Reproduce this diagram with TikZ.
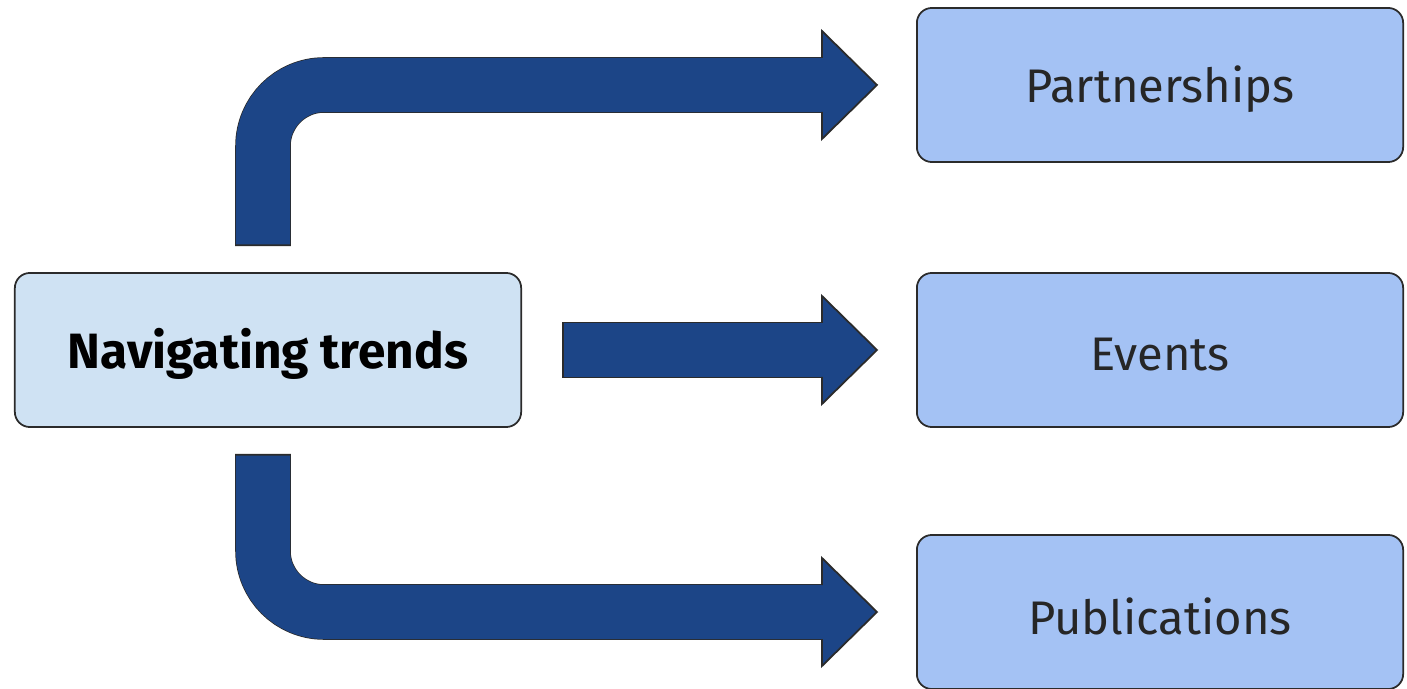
\documentclass[tikz,border=0pt]{standalone}
\usepackage{fontspec}
\setmainfont{Fira Sans}
\usetikzlibrary{calc}
\definecolor{arrowblue}{HTML}{1C4587}
\definecolor{trendfill}{HTML}{CFE2F3}
\definecolor{topicfill}{HTML}{A4C2F4}
\definecolor{edge}{HTML}{2B2B2B}
\newcommand{\headat}[1]{%
  \filldraw[fill=arrowblue,draw=edge,line width=0.5pt,line join=miter]
    ($(#1)+(0,27)$) -- ($(#1)+(0,54)$) -- ($(#1)+(55,0)$) -- ($(#1)+(0,-54)$) -- ($(#1)+(0,-27)$);}
\newcommand{\lowered}[1]{\raisebox{-1.2pt}[\height][\depth]{#1}}
\begin{document}
\begin{tikzpicture}[x=0.01cm,y=0.01cm,
  box/.style={draw=edge,line width=0.5pt,rounded corners=0.15cm,minimum height=1.54cm,inner sep=0pt},
  trendbox/.style={box,fill=trendfill,minimum width=5.06cm,font=\fontsize{14.1}{16}\selectfont\bfseries},
  topicbox/.style={box,fill=topicfill,minimum width=4.86cm,text=black!85,font=\fontsize{13.4}{16}\selectfont},
  shaft/.style={draw=arrowblue,line width=0.54cm,rounded corners=0.61cm,shorten <=0.5pt,
    preaction={draw=edge,line width=0.555cm,shorten <=0pt}}]
\useasboundingbox (0,0) rectangle (1407,688);
\node[trendbox] (trend) at (268,338) {\lowered{Navigating trends}};
\node[topicbox] (partner) at (1160,603) {\lowered{Partnerships}};
\node[topicbox] (events) at (1160,338) {\lowered{Events}};
\node[topicbox] (pubs) at (1160,76) {\lowered{Publications}};
\coordinate (h1) at ($(partner.west)+(-94,0)$);
\coordinate (h2) at ($(events.west)+(-94,0)$);
\coordinate (h3) at ($(pubs.west)+(-94,0)$);
\draw[shaft] ($(trend.north)+(-5,26)$) |- ($(h1)+(2,0)$);
\draw[shaft] ($(trend.east)+(40,0)$) -- ($(h2)+(2,0)$);
\draw[shaft] ($(trend.south)+(-5,-26)$) |- ($(h3)+(2,0)$);
\headat{h1}
\headat{h2}
\headat{h3}
\end{tikzpicture}
\end{document}
